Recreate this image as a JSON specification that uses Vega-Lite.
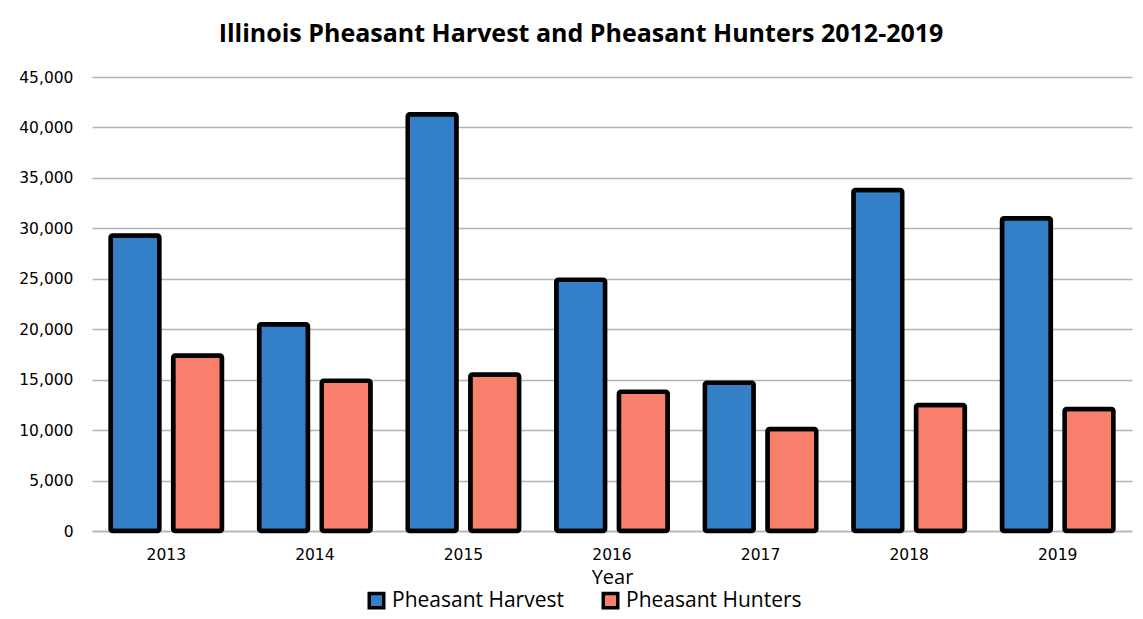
{
  "$schema": "https://vega.github.io/schema/vega-lite/v6.json",
  "width": 1040,
  "height": 454,
  "padding": {"left": 8, "top": 22, "right": 11, "bottom": 0},
  "background": "white",
  "title": {
    "text": "Illinois Pheasant Harvest and Pheasant Hunters 2012-2019",
    "font": "Open Sans",
    "fontSize": 25,
    "fontWeight": "bold",
    "color": "black",
    "anchor": "middle",
    "dx": -31,
    "offset": 23
  },
  "data": {
    "values": [
      {"year": "2013", "series": "Pheasant Harvest", "value": 29300},
      {"year": "2013", "series": "Pheasant Hunters", "value": 17400},
      {"year": "2014", "series": "Pheasant Harvest", "value": 20500},
      {"year": "2014", "series": "Pheasant Hunters", "value": 14900},
      {"year": "2015", "series": "Pheasant Harvest", "value": 41300},
      {"year": "2015", "series": "Pheasant Hunters", "value": 15500},
      {"year": "2016", "series": "Pheasant Harvest", "value": 24900},
      {"year": "2016", "series": "Pheasant Hunters", "value": 13800},
      {"year": "2017", "series": "Pheasant Harvest", "value": 14700},
      {"year": "2017", "series": "Pheasant Hunters", "value": 10100},
      {"year": "2018", "series": "Pheasant Harvest", "value": 33800},
      {"year": "2018", "series": "Pheasant Hunters", "value": 12500},
      {"year": "2019", "series": "Pheasant Harvest", "value": 31000},
      {"year": "2019", "series": "Pheasant Hunters", "value": 12100}
    ]
  },
  "mark": {"type": "bar", "stroke": "black", "strokeWidth": 4.5, "cornerRadius": 2},
  "encoding": {
    "x": {
      "field": "year",
      "type": "nominal",
      "scale": {"paddingInner": 0.25, "paddingOuter": 0.125},
      "axis": {
        "title": "Year",
        "labelAngle": 0,
        "ticks": false,
        "domainColor": "#b4b4b4",
        "domainWidth": 1.5,
        "labelFont": "DejaVu Sans",
        "labelFontSize": 15.5,
        "labelColor": "black",
        "labelPadding": 16,
        "titleFont": "Open Sans",
        "titleFontSize": 20,
        "titleFontWeight": "normal",
        "titleColor": "black",
        "titlePadding": 5
      }
    },
    "xOffset": {
      "field": "series",
      "type": "nominal",
      "scale": {"paddingInner": 0.22, "paddingOuter": 0}
    },
    "y": {
      "field": "value",
      "type": "quantitative",
      "scale": {"domain": [0, 45000], "nice": false},
      "axis": {
        "title": null,
        "values": [0, 5000, 10000, 15000, 20000, 25000, 30000, 35000, 40000, 45000],
        "format": ",.0f",
        "ticks": false,
        "domain": false,
        "gridColor": "#b4b4b4",
        "gridWidth": 1.5,
        "labelFont": "DejaVu Sans",
        "labelFontSize": 15.5,
        "labelColor": "black",
        "labelPadding": 19,
        "minExtent": 84,
        "maxExtent": 84
      }
    },
    "color": {
      "field": "series",
      "type": "nominal",
      "scale": {"domain": ["Pheasant Harvest", "Pheasant Hunters"], "range": ["#3380c8", "#f87f6b"]},
      "legend": {
        "title": null,
        "orient": "none",
        "legendX": 274,
        "legendY": 513,
        "direction": "horizontal",
        "symbolType": "square",
        "symbolSize": 210,
        "symbolStrokeColor": "black",
        "symbolStrokeWidth": 3.5,
        "labelFont": "Open Sans",
        "labelFontSize": 21,
        "labelColor": "black",
        "labelOffset": 5,
        "labelLimit": 400,
        "columnPadding": 32
      }
    }
  },
  "config": {"view": {"stroke": null}}
}
